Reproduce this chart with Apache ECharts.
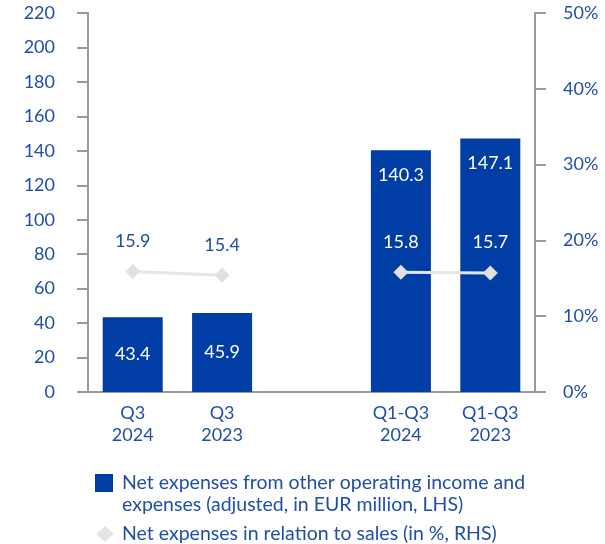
<!DOCTYPE html>
<html>
<head>
<meta charset="utf-8">
<script src="https://cdn.jsdelivr.net/npm/echarts@6/dist/echarts.min.js"></script>
<style>
  html, body { margin: 0; padding: 0; background: #fff; }
  #main { width: 605px; height: 544px; }
</style>
</head>
<body>
<div id="main"></div>
<script>
// 数据
var categories = ['Q3\n2024', 'Q3\n2023', '', 'Q1-Q3\n2024', 'Q1-Q3\n2023'];
var expenses = [43.4, 45.9, null, 140.3, 147.1];
var ratio = [15.9, 15.4, null, 15.8, 15.7];
var leftTicks = { min: 0, max: 220, interval: 20 };
var rightTicks = { min: 0, max: 50, interval: 10 };

var blue = '#003da5';
var textBlue = '#1f4fa8';
var gray = '#9a9a9a';
var font = 'Lato';

var myChart = echarts.init(document.getElementById('main'));

var barData = expenses.map(function (v, i) {
  if (v === null) return '-';
  return {
    value: v,
    label: v > 100 ? { position: 'insideTop', distance: 16 } : { position: 'inside' }
  };
});
var lineData = ratio.map(function (v, i) {
  if (v === null) return '-';
  return {
    value: v,
    label: { color: i < 2 ? textBlue : '#ffffff' }
  };
});

var option = {
  animation: false,
  grid: { left: 88, right: 70, top: 13, bottom: 152 },
  legend: [
    {
      // 第一项文字两行，前面加空行让第一行和色块对齐
      left: 95, top: 450, padding: 0,
      itemWidth: 18, itemHeight: 18,
      selectedMode: false,
      data: [{ name: 'bar', icon: 'rect' }],
      formatter: function () {
        return '\nNet expenses from other operating income and\nexpenses (adjusted, in EUR million, LHS)';
      },
      textStyle: { color: textBlue, fontSize: 19.5, fontFamily: font, lineHeight: 22, padding: [0, 0, 0, 4] }
    },
    {
      left: 96, top: 524, padding: 0,
      itemWidth: 18, itemHeight: 16,
      selectedMode: false,
      data: [{ name: 'line', icon: 'diamond', itemStyle: { color: '#e4e4e4' } }],
      formatter: function () {
        return 'Net expenses in relation to sales (in %, RHS)';
      },
      textStyle: { color: textBlue, fontSize: 19.5, fontFamily: font, padding: [0, 0, 0, 3] }
    }
  ],
  xAxis: {
    type: 'category',
    data: categories,
    axisLine: { show: true, lineStyle: { color: gray, width: 2 } },
    axisTick: { show: false },
    axisLabel: { color: textBlue, fontSize: 18, fontFamily: font, lineHeight: 22, margin: 10, interval: 0 }
  },
  yAxis: [
    {
      type: 'value',
      min: leftTicks.min, max: leftTicks.max, interval: leftTicks.interval,
      axisLine: { show: true, lineStyle: { color: gray, width: 2 } },
      axisTick: { show: true, length: 11, lineStyle: { color: gray, width: 2 } },
      splitLine: { show: false },
      axisLabel: { color: textBlue, fontSize: 18, fontFamily: font, margin: 33 }
    },
    {
      type: 'value',
      position: 'right',
      min: rightTicks.min, max: rightTicks.max, interval: rightTicks.interval,
      axisLine: { show: true, lineStyle: { color: gray, width: 2 } },
      axisTick: { show: true, length: 11, lineStyle: { color: gray, width: 2 } },
      splitLine: { show: false },
      axisLabel: { color: textBlue, fontSize: 18, fontFamily: font, margin: 28, formatter: '{value}%' }
    }
  ],
  series: [
    {
      name: 'bar',
      type: 'bar',
      yAxisIndex: 0,
      barWidth: 60,
      itemStyle: { color: blue },
      label: { show: true, color: '#ffffff', fontSize: 18, fontFamily: font },
      data: barData
    },
    {
      name: 'line',
      type: 'line',
      yAxisIndex: 1,
      connectNulls: false,
      symbol: 'diamond',
      symbolSize: 15,
      lineStyle: { color: '#e6e6e6', width: 3 },
      itemStyle: { color: '#e1e1e1' },
      label: { show: true, position: 'top', distance: 14, fontSize: 18, fontFamily: font },
      z: 5,
      data: lineData
    }
  ]
};

myChart.setOption(option);
</script>
</body>
</html>
